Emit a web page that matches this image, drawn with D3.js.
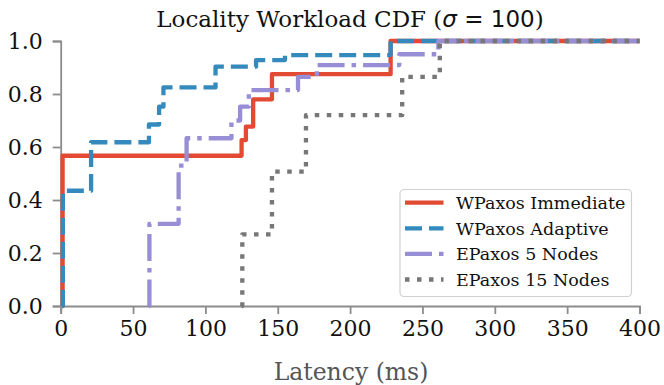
<!DOCTYPE html>
<html>
<head>
<meta charset="utf-8">
<script src="https://cdn.jsdelivr.net/npm/d3@7"></script>
<style>
  body { margin: 0; background: #fff; }
  svg { display: block; }
  text { font-family: "DejaVu Serif", serif; }
</style>
</head>
<body>
<svg id="chart" width="664" height="385"></svg>
<script>
// ---- data ----
const seriesNames = ["WPaxos Immediate", "WPaxos Adaptive", "EPaxos 5 Nodes", "EPaxos 15 Nodes"];

const immediateLatency = [1, 1.3, 125, 128, 133, 146, 228, 400];
const immediateCdf     = [0, 0.567, 0.626, 0.677, 0.78, 0.875, 1.0, 1.0];

const adaptiveLatency = [1, 1.5, 21, 61, 68, 71, 107, 135, 155, 228, 400];
const adaptiveCdf     = [0, 0.435, 0.618, 0.685, 0.752, 0.825, 0.903, 0.928, 0.947, 1.0, 1.0];

const epaxos5Latency = [61, 61.3, 81.5, 87, 118, 124, 130, 164, 177, 234, 261, 400];
const epaxos5Cdf     = [0, 0.31, 0.53, 0.633, 0.70, 0.752, 0.815, 0.865, 0.909, 0.95, 1.0, 1.0];

const epaxos15Latency = [125, 125.5, 146, 169.5, 236, 262, 400];
const epaxos15Cdf     = [0, 0.27, 0.507, 0.72, 0.865, 1.0, 1.0];

const xTicks = [0, 50, 100, 150, 200, 250, 300, 350, 400];
const yTicks = [0.0, 0.2, 0.4, 0.6, 0.8, 1.0];

const colors = ["#E24A33", "#348ABD", "#988ED5", "#777777"];
const dashes = [null, "17,7", "27,7,4.5,7", "4.5,7.5"];

// ---- layout ----
const svg = d3.select("#chart");
const x = d3.scaleLinear().domain([0, 400]).range([60.7, 639.5]);
const y = d3.scaleLinear().domain([0, 1]).range([306, 41]);

const data = [
  d3.zip(immediateLatency, immediateCdf),
  d3.zip(adaptiveLatency, adaptiveCdf),
  d3.zip(epaxos5Latency, epaxos5Cdf),
  d3.zip(epaxos15Latency, epaxos15Cdf)
];

const line = d3.line().x(d => x(d[0])).y(d => y(d[1])).curve(d3.curveStepAfter);

// axes
const axisColor = "#8c8c8c";
const xAxis = svg.append("g").attr("transform", `translate(0,${y(0)})`)
  .call(d3.axisBottom(x).tickValues(xTicks).tickFormat(d3.format("d")).tickSize(8).tickPadding(6));
const yAxis = svg.append("g").attr("transform", `translate(${x(0)},0)`)
  .call(d3.axisLeft(y).tickValues(yTicks).tickFormat(d3.format(".1f")).tickSize(8).tickPadding(10));

[xAxis, yAxis].forEach(g => {
  g.select(".domain").attr("stroke", axisColor).attr("stroke-width", 1.8);
  g.selectAll(".tick line").attr("stroke", axisColor).attr("stroke-width", 1.8);
  g.selectAll(".tick text").attr("fill", "#111").style("font-family", "DejaVu Serif").style("font-size", "22px");
});

// lines
const plot = svg.append("g");
data.forEach((d, i) => {
  plot.append("path")
    .datum(d)
    .attr("fill", "none")
    .attr("stroke", colors[i])
    .attr("stroke-width", 4.3)
    .attr("stroke-dasharray", dashes[i])
    .attr("stroke-linejoin", "round")
    .attr("d", line);
});

// title
const title = svg.append("text")
  .attr("x", 350).attr("y", 27)
  .attr("text-anchor", "middle")
  .style("font-size", "23px")
  .attr("fill", "#111");
title.append("tspan").text("Locality Workload CDF (");
title.append("tspan").style("font-family", "DejaVu Sans").style("font-style", "italic").text("σ");
title.append("tspan").style("font-family", "DejaVu Sans").text(" = 100");
title.append("tspan").text(")");

// x label
svg.append("text")
  .attr("x", 351).attr("y", 380)
  .attr("text-anchor", "middle")
  .style("font-size", "23.5px")
  .attr("fill", "#555")
  .text("Latency (ms)");

// legend
const legend = svg.append("g");
legend.append("rect")
  .attr("x", 400).attr("y", 189.5).attr("width", 231.5).attr("height", 107)
  .attr("rx", 4)
  .attr("fill", "white").attr("fill-opacity", 0.85)
  .attr("stroke", "#d0d0d0").attr("stroke-width", 1.2);

seriesNames.forEach((name, i) => {
  const cy = 202.7 + i * 25.6;
  legend.append("line")
    .attr("x1", 405).attr("x2", 443.5).attr("y1", cy).attr("y2", cy)
    .attr("stroke", colors[i]).attr("stroke-width", 4.3)
    .attr("stroke-dasharray", dashes[i]);
  legend.append("text")
    .attr("x", 456).attr("y", cy)
    .attr("dy", "0.36em")
    .style("font-size", "17.5px")
    .attr("fill", "#111")
    .text(name);
});
</script>
</body>
</html>
